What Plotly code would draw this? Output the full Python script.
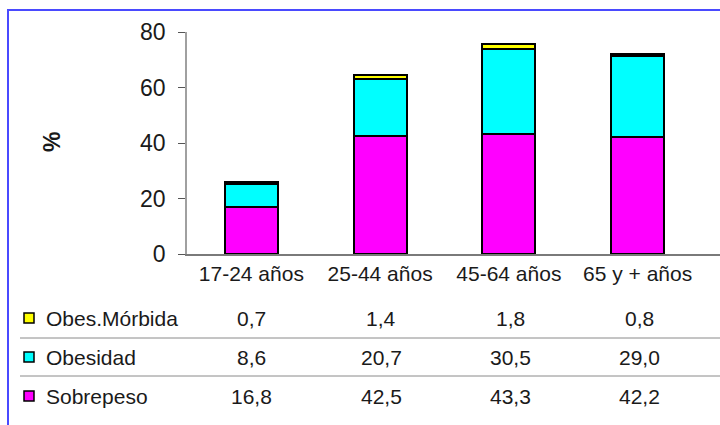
import plotly.graph_objects as go

# Grupos de edad y prevalencias (%)
categorias = ["17-24 años", "25-44 años", "45-64 años", "65 y + años"]
sobrepeso = [16.8, 42.5, 43.3, 42.2]
obesidad = [8.6, 20.7, 30.5, 29.0]
obes_morbida = [0.7, 1.4, 1.8, 0.8]
y_ticks = [0, 20, 40, 60, 80]

W, H = 720, 425
FONT = "Liberation Sans, Arial, sans-serif"


def px_x(x):
    return x / W


def px_y(y):
    return (H - y) / H


series = [
    ("Sobrepeso", sobrepeso, "#ff00ff"),
    ("Obesidad", obesidad, "#00ffff"),
    ("Obes.Mórbida", obes_morbida, "#ffff00"),
]

fig = go.Figure()
for nombre, valores, color in series:
    fig.add_trace(go.Bar(
        x=categorias, y=valores, name=nombre,
        marker=dict(color=color, line=dict(color="black", width=2)),
        width=0.41, showlegend=False,
    ))

shapes = []
annotations = []

# Marco azul del gráfico
shapes.append(dict(type="rect", xref="paper", yref="paper",
                   x0=px_x(8), x1=px_x(760), y0=px_y(10), y1=px_y(460),
                   line=dict(color="#4a4aff", width=2), fillcolor="rgba(0,0,0,0)"))

# Tabla de datos bajo el gráfico
filas = [("Obes.Mórbida", obes_morbida, "#ffff00", 318),
         ("Obesidad", obesidad, "#00ffff", 357),
         ("Sobrepeso", sobrepeso, "#ff00ff", 396)]
centros = [252, 381, 510, 639]
for nombre, valores, color, yc in filas:
    shapes.append(dict(type="rect", xref="paper", yref="paper",
                       x0=px_x(24), x1=px_x(34), y0=px_y(yc - 5), y1=px_y(yc + 5),
                       line=dict(color="black", width=1.5), fillcolor=color))
    annotations.append(dict(xref="paper", yref="paper", x=px_x(44), y=px_y(yc),
                            text=nombre, showarrow=False, xanchor="left", yanchor="middle",
                            font=dict(family=FONT, size=21, color="#1a1a1a")))
    for xc, v in zip(centros, valores):
        annotations.append(dict(xref="paper", yref="paper", x=px_x(xc), y=px_y(yc),
                                text=f"{v:.1f}".replace(".", ","), showarrow=False,
                                xanchor="center", yanchor="middle",
                                font=dict(family=FONT, size=21, color="#1a1a1a")))
for yl in (338, 376):
    shapes.append(dict(type="line", xref="paper", yref="paper",
                       x0=px_x(20), x1=1, y0=px_y(yl), y1=px_y(yl),
                       line=dict(color="#8a8a8a", width=1)))

# Título del eje Y
annotations.append(dict(xref="paper", yref="paper", x=px_x(37), y=px_y(142),
                        text="<b>%</b>", showarrow=False, textangle=-90,
                        font=dict(family=FONT, size=23, color="#1a1a1a")))

fig.update_layout(
    width=W, height=H, autosize=False,
    margin=dict(l=0, r=0, t=0, b=0, pad=0),
    paper_bgcolor="white", plot_bgcolor="white",
    barmode="stack", bargap=0.59,
    font=dict(family=FONT, color="#1a1a1a"),
    xaxis=dict(domain=[px_x(187), 1.0], range=[-0.5, 3.64], automargin=False,
               showgrid=False, showline=True, linecolor="#7a7a7a", linewidth=1.5,
               ticks="", tickfont=dict(family=FONT, size=21, color="#1a1a1a")),
    yaxis=dict(domain=[px_y(254), px_y(32)], range=[0, 80], tickvals=y_ticks,
               automargin=False, ticklabelstandoff=8,
               showgrid=False, showline=True, linecolor="#a0a0a0", linewidth=1.5,
               ticks="outside", ticklen=7, tickcolor="#555555", tickwidth=1,
               tickfont=dict(family=FONT, size=23, color="#1a1a1a"), zeroline=False),
    shapes=shapes, annotations=annotations,
)

fig.write_html("out.html")
